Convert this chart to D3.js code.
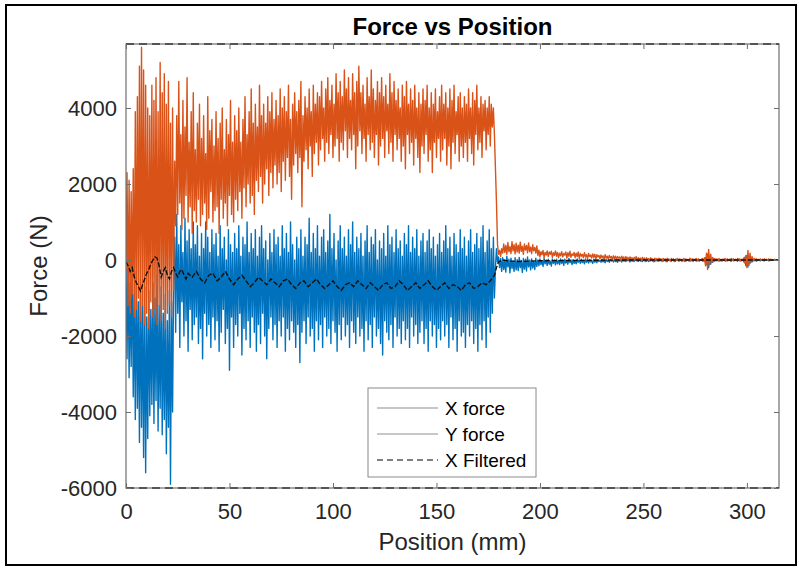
<!DOCTYPE html>
<html>
<head>
<meta charset="utf-8">
<script src="https://cdn.jsdelivr.net/npm/d3@7"></script>
<style>
  html, body { margin: 0; padding: 0; background: #fff; }
  svg { display: block; font-family: "Liberation Sans", Arial, Helvetica, sans-serif; }
</style>
</head>
<body>
<svg id="chart" width="799" height="568"></svg>
<script>
// ---------------- DATA ----------------
const chartTitle = "Force vs Position";
const xAxisLabel = "Position (mm)";
const yAxisLabel = "Force (N)";
const seriesNames = ["X force", "Y force", "X Filtered"];
const xTicks = [0, 50, 100, 150, 200, 250, 300];
const yTicks = [-6000, -4000, -2000, 0, 2000, 4000];
const xLimits = [0, 315.5];
const yLimits = [-6000, 5684];

// sampling interval of the force recording (mm)
const sampleStepMm = 0.5;

// X force (N), samples every 0.5 mm from 0 to 315 mm
const xForce = [
  // 0 - 23 mm
  -200,-2600,300,-3100,-600,-2800,200,-3600,-900,-4200,
  -300,-3900,-1100,-4800,-500,-4400,-1200,-5200,-700,-5600,
  -1500,-4700,-800,-4100,-1300,-3800,-600,-4300,-1000,-3700,
  -400,-4500,-1200,-3900,-700,-4600,-1400,-4200,-900,-5100,
  -1600,-4400,-800,-5900,-1100,-4000,-600,
  // 23.5 - 178.5 mm
  600,-1900,1200,-1400,400,-2300,900,-1100,200,-2000,1100,-1600,500,-2400,800,-1300,300,-2100,1000,-1700,
  400,-1500,900,-2200,100,-1800,700,-2600,300,-1400,1000,-2000,600,-1700,200,-2300,800,-1500,400,-2100,
  700,-1600,100,-2400,900,-1900,300,-1300,600,-2200,0,-1800,800,-2900,400,-1500,200,-2300,700,-1700,
  300,-2000,900,-1400,100,-2500,600,-1800,400,-2100,1000,-1600,200,-2300,700,-1500,300,-1900,800,-2400,
  100,-1700,600,-2200,900,-1400,300,-2000,500,-2600,0,-1800,700,-1500,200,-2100,800,-1700,400,-2300,
  600,-1600,100,-2000,900,-1500,300,-2400,700,-1800,200,-2100,1000,-1600,400,-1900,0,-2300,600,-1700,
  300,-2700,800,-1900,100,-1600,600,-2200,400,-1500,1100,-2000,200,-1800,700,-2400,300,-1600,900,-2100,
  100,-1700,600,-2300,800,-1500,200,-2000,500,-1800,1200,-2200,300,-1600,700,-1900,0,-2400,500,-1700,
  900,-2100,300,-1500,600,-2000,100,-1700,800,-2300,400,-1600,1000,-1900,200,-2200,600,-1500,300,-2000,
  700,-1800,100,-2400,500,-1600,900,-2100,200,-1700,600,-2300,400,-1500,800,-2000,0,-1800,500,-2200,
  300,-2500,700,-1600,100,-1900,900,-2100,400,-1700,600,-2300,200,-1500,800,-2000,300,-1800,500,-2200,
  100,-1600,700,-2100,400,-1800,900,-2300,200,-1500,600,-2000,300,-1700,800,-2200,100,-1900,500,-1600,
  700,-2200,200,-1800,500,-2400,800,-1600,300,-2000,600,-1700,100,-2300,400,-1800,700,-2100,200,-1600,
  500,-2000,900,-1700,300,-2300,600,-1500,100,-2100,700,-1800,400,-2400,200,-1600,800,-2000,300,-1900,
  600,-2300,100,-1700,500,-2000,800,-1600,200,-2200,400,-1800,700,-2400,300,-1700,600,-2100,900,-1600,
  200,-2300,500,-1500,800,-1900,300,-1400,600,-1000,-200,
  // 179 - 315 mm
  300,-50,80,-200,40,-300,60,-250,0,-320,100,-180,20,-340,50,-220,-20,-300,60,-260,
  10,-280,70,-200,-10,-330,40,-240,20,-290,80,-180,0,-260,30,-210,-30,-250,50,-170,
  0,-150,30,-120,-20,-170,40,-100,0,-140,20,-110,-30,-160,30,-90,0,-130,20,-100,
  -10,-120,30,-90,0,-140,20,-80,-20,-110,40,-70,0,-120,10,-90,-20,-100,30,-60,
  0,-90,20,-70,-10,-100,30,-60,0,-80,10,-50,-20,-90,20,-60,0,-70,10,-40,
  -10,-60,20,-50,0,-70,10,-40,-10,-60,20,-30,0,-50,10,-40,-20,-60,10,-30,
  0,-50,10,-30,-10,-40,20,-20,0,-50,10,-30,-10,-40,20,-20,0,-40,10,-30,
  -10,-40,20,-20,0,-30,10,-40,-10,-20,20,-30,0,-40,10,-20,-10,-30,20,-20,
  0,-30,10,-20,-10,-40,20,-10,0,-30,10,-20,-10,-30,20,-10,0,-20,10,-30,
  -10,-20,20,-30,0,-10,10,-30,-10,-20,20,-10,0,-30,10,-20,-10,-10,20,-30,
  0,-40,60,-120,150,-200,90,-110,40,-60,20,-30,0,-20,10,-30,-10,-20,10,-10,
  0,-30,10,-20,-10,-10,20,-30,0,-20,10,-10,-10,-30,20,-20,0,-10,10,-50,
  70,-150,120,-180,80,-90,30,-50,10,-20,0,-30,10,-10,-10,-20,10,-10,0,-20,
  10,-10,0,-20,10,-10,0,-10,10,-10,0,10,0
];

// Y force (N), samples every 0.5 mm from 0 to 315 mm
const yForce = [
  // 0 - 23 mm
  -300,2300,-1200,2100,-1400,1800,-900,2400,-1500,3900,
  -1300,4300,-1000,5100,-1600,5600,-1200,5000,-1700,4600,
  -1400,4000,-1800,3800,-1100,4600,-1500,4200,-1300,4800,
  -1700,3900,-1200,5200,-1600,4400,-1300,4900,-1800,4100,
  -1400,4700,-1200,3600,-1500,4000,-800,
  // 23.5 - 178.5 mm
  2600,900,3800,1200,4700,1500,3300,800,4200,1100,3500,1700,4800,1000,3100,1400,3900,700,4400,1300,
  2900,1000,3600,1600,4100,900,3200,1200,3800,1500,2800,800,4300,1100,3400,1800,3700,1000,3000,1300,
  3900,1400,3200,700,3600,1600,4000,1100,2900,1500,3700,900,3300,1700,4200,1200,3100,1000,3800,1600,
  3400,1300,4000,1800,3100,1100,3700,1900,4300,1400,3300,2000,3900,1500,4500,1700,3600,1200,4100,2100,
  3500,1800,4600,2200,3800,1500,4100,2000,3600,2400,4300,1700,3900,2300,4400,1900,3700,2500,4200,2000,
  3800,2300,4500,1800,4000,2600,4300,2100,3900,2700,4600,2200,3700,1600,4100,2500,4400,2800,3900,2300,
  4200,2700,4700,1400,3800,2600,4300,2900,4000,2400,4500,3000,3900,2200,4600,2800,4100,3100,4400,2500,
  4300,2900,4700,3200,4000,2600,4500,3100,4800,2800,4200,3300,4600,2700,4100,3000,4900,3200,4400,2600,
  4700,3100,4300,2900,5000,3400,4500,2700,4800,3200,4200,2900,4900,3300,4400,2400,4700,3000,5100,3400,
  4400,2800,4600,3200,4100,2600,4800,3300,4300,2900,5000,3100,4500,2700,4200,3300,4700,2500,4400,3000,
  4800,3200,4300,2700,4600,3400,4100,2800,4900,3100,4400,2600,4700,3300,4200,2900,4500,3200,4000,2600,
  4600,3000,4300,2400,4700,3300,4100,2800,4500,3100,4200,2500,4600,3200,4000,2700,4400,2300,4100,3000,
  4500,2800,4200,3300,4600,2600,4000,2900,4400,2300,4100,3100,4500,2700,3900,3200,4300,2600,4600,2900,
  4100,3200,4400,2500,4000,3000,4500,2400,4200,3100,4600,2800,3900,3300,4300,2600,4400,3000,4000,2700,
  4300,3100,4100,2600,4500,3200,4000,2800,4400,2500,4200,3300,4600,2900,4000,3100,4300,2700,4100,3400,
  4200,2900,4000,3300,4300,3000,4100,3500,4000,3300,2400,
  // 179 - 315 mm
  1500,400,150,250,100,300,180,420,200,380,150,460,220,350,170,480,240,400,160,440,
  210,390,180,470,230,360,150,420,260,380,190,450,220,340,170,400,240,330,180,370,
  120,260,80,220,140,250,60,200,130,240,90,210,150,230,70,190,120,240,100,200,
  60,180,110,220,80,170,130,210,50,190,100,230,70,160,120,200,60,180,90,210,
  40,170,100,150,60,190,80,140,30,170,90,130,50,160,70,150,20,140,80,120,
  30,130,60,110,10,140,50,100,20,120,60,90,0,110,40,100,10,90,50,80,
  0,100,30,80,-20,90,20,70,-10,80,30,60,-30,70,10,90,-20,60,20,50,
  -30,70,10,50,-40,60,0,40,-20,60,10,30,-50,50,0,40,-30,50,10,30,
  -40,40,0,30,-50,50,-10,20,-30,40,0,30,-40,20,-10,40,-30,30,0,20,
  -20,40,-40,30,0,20,-30,50,-10,30,-40,20,0,40,-20,30,-30,10,0,40,
  -20,60,-150,180,-250,280,-120,150,-60,70,-30,40,0,30,-20,40,-10,20,-30,30,
  0,40,-20,30,-10,20,-30,40,0,30,-20,20,-10,40,0,30,-30,20,0,60,
  -80,120,-200,250,-140,180,-60,90,-20,40,0,30,-20,20,-10,30,0,20,-20,30,
  -10,20,0,30,-20,20,-10,10,0,20,-10,10,0
];

// X Filtered (N) and its positions (mm)
const filteredPos = [
  0,1,2,3,4,5,6,7,8,9,10,11,12,13,14,15,16,17,18,19,20,21,22,23,24,25,26,27,28,29,30,
  32,34,36,38,40,42,44,46,48,50,52,54,56,58,60,62,64,66,68,70,72,74,76,78,80,
  82,84,86,88,90,92,94,96,98,100,102,104,106,108,110,112,114,116,118,120,122,124,126,128,130,
  132,134,136,138,140,142,144,146,148,150,152,154,156,158,160,162,164,166,168,170,172,174,176,178,
  179,180,182,185,190,200,220,240,260,280,300,315
];
const xFiltered = [
  -50,-150,-300,-200,-450,-600,-700,-820,-650,-500,-350,-250,-100,0,80,50,-150,-450,-300,-200,-400,-500,-300,-200,-350,-450,-300,-250,-400,-500,-350,
  -450,-300,-500,-600,-400,-350,-550,-450,-300,-500,-650,-500,-400,-550,-700,-600,-450,-550,-650,-500,-600,-700,-550,-500,-650,
  -750,-600,-550,-700,-600,-500,-650,-750,-650,-550,-700,-800,-650,-600,-700,-550,-650,-750,-600,-700,-800,-650,-600,-750,-700,
  -550,-650,-800,-700,-600,-750,-650,-550,-700,-800,-700,-600,-750,-650,-700,-800,-650,-600,-750,-700,-600,-650,-550,-400,
  -200,-50,0,-30,-40,-20,-10,0,0,0,0,0
];

// ---------------- STYLE / LAYOUT ----------------
const colors = { x: "#0072BD", y: "#D95319", filt: "#111111" };
const plot = { left: 126, right: 779, top: 44, bottom: 488 };
const fontFamily = '"Liberation Sans", Arial, Helvetica, sans-serif';

const svg = d3.select("#chart");

// outer figure border
svg.append("rect")
  .attr("x", 6).attr("y", 5).attr("width", 790).attr("height", 560)
  .attr("fill", "#fff").attr("stroke", "#000").attr("stroke-width", 2);

const x = d3.scaleLinear().domain(xLimits).range([plot.left, plot.right]);
const y = d3.scaleLinear().domain(yLimits).range([plot.bottom, plot.top]);

svg.append("defs").append("clipPath").attr("id", "clip")
  .append("rect")
  .attr("x", plot.left).attr("y", plot.top)
  .attr("width", plot.right - plot.left).attr("height", plot.bottom - plot.top);

const g = svg.append("g").attr("clip-path", "url(#clip)");

const toPoints = arr => arr.map((v, i) => [i * sampleStepMm, v]);
const line = d3.line().x(d => x(d[0])).y(d => y(d[1]));

g.append("path")
  .attr("d", line(toPoints(xForce)))
  .attr("fill", "none").attr("stroke", colors.x)
  .attr("stroke-width", 1.4).attr("stroke-linejoin", "round");

g.append("path")
  .attr("d", line(toPoints(yForce)))
  .attr("fill", "none").attr("stroke", colors.y)
  .attr("stroke-width", 1.4).attr("stroke-linejoin", "round");

const nF = Math.min(filteredPos.length, xFiltered.length);
const filtPts = d3.range(nF).map(i => [filteredPos[i], xFiltered[i]]);
g.append("path")
  .attr("d", line(filtPts))
  .attr("fill", "none").attr("stroke", colors.filt)
  .attr("stroke-width", 1.4).attr("stroke-dasharray", "5,2");

// axes box
const axisColor = "#6e6e6e";
svg.append("rect")
  .attr("x", plot.left).attr("y", plot.top)
  .attr("width", plot.right - plot.left).attr("height", plot.bottom - plot.top)
  .attr("fill", "none").attr("stroke", axisColor).attr("stroke-width", 1.2);

// dashed lines along top and bottom edges
[yLimits[0], yLimits[1]].forEach(v => {
  svg.append("line")
    .attr("x1", plot.left).attr("x2", plot.right)
    .attr("y1", y(v)).attr("y2", y(v))
    .attr("stroke", "#3a3a3a").attr("stroke-width", 1.6)
    .attr("stroke-dasharray", "8,5");
});

// axes with inward ticks
const fmt = d => String(d).replace("\u2212", "-");
const axB = d3.axisBottom(x).tickValues(xTicks).tickSizeInner(-5).tickSizeOuter(0).tickPadding(15).tickFormat(fmt);
const axT = d3.axisTop(x).tickValues(xTicks).tickSizeInner(-5).tickSizeOuter(0).tickFormat("");
const axL = d3.axisLeft(y).tickValues(yTicks).tickSizeInner(-5).tickSizeOuter(0).tickPadding(9).tickFormat(fmt);
const axR = d3.axisRight(y).tickValues(yTicks).tickSizeInner(-5).tickSizeOuter(0).tickFormat("");

function styleAxis(sel) {
  sel.select(".domain").remove();
  sel.selectAll(".tick line").attr("stroke", axisColor);
  sel.selectAll(".tick text")
    .attr("fill", "#262626")
    .style("font-family", fontFamily)
    .style("font-size", "22px");
}

svg.append("g").attr("transform", `translate(0,${plot.bottom})`).call(axB).call(styleAxis);
svg.append("g").attr("transform", `translate(0,${plot.top})`).call(axT).call(styleAxis);
svg.append("g").attr("transform", `translate(${plot.left},0)`).call(axL).call(styleAxis);
svg.append("g").attr("transform", `translate(${plot.right},0)`).call(axR).call(styleAxis);

// title and labels
svg.append("text")
  .attr("x", (plot.left + plot.right) / 2).attr("y", 35)
  .attr("text-anchor", "middle")
  .style("font-family", fontFamily).style("font-size", "24px").style("font-weight", "bold")
  .attr("fill", "#000")
  .text(chartTitle);

svg.append("text")
  .attr("x", (plot.left + plot.right) / 2).attr("y", 550)
  .attr("text-anchor", "middle")
  .style("font-family", fontFamily).style("font-size", "24px")
  .attr("fill", "#262626")
  .text(xAxisLabel);

svg.append("text")
  .attr("transform", `translate(47,${(plot.top + plot.bottom) / 2}) rotate(-90)`)
  .attr("text-anchor", "middle")
  .style("font-family", fontFamily).style("font-size", "24px")
  .attr("fill", "#262626")
  .text(yAxisLabel);

// legend
const leg = svg.append("g");
leg.append("rect")
  .attr("x", 368).attr("y", 388).attr("width", 168).attr("height", 89)
  .attr("fill", "#fff").attr("stroke", "#8a8a8a").attr("stroke-width", 1);
const legRows = [
  { name: seriesNames[0], color: "#b4b4b4", dash: null, yy: 408 },
  { name: seriesNames[1], color: "#b4b4b4", dash: null, yy: 434 },
  { name: seriesNames[2], color: "#555555", dash: "6,4", yy: 460 }
];
legRows.forEach(r => {
  leg.append("line")
    .attr("x1", 377).attr("x2", 438).attr("y1", r.yy).attr("y2", r.yy)
    .attr("stroke", r.color).attr("stroke-width", 1.6)
    .attr("stroke-dasharray", r.dash);
  leg.append("text")
    .attr("x", 445).attr("y", r.yy).attr("dy", "0.35em")
    .style("font-family", fontFamily).style("font-size", "19px")
    .attr("fill", "#000")
    .text(r.name);
});
</script>
</body>
</html>
